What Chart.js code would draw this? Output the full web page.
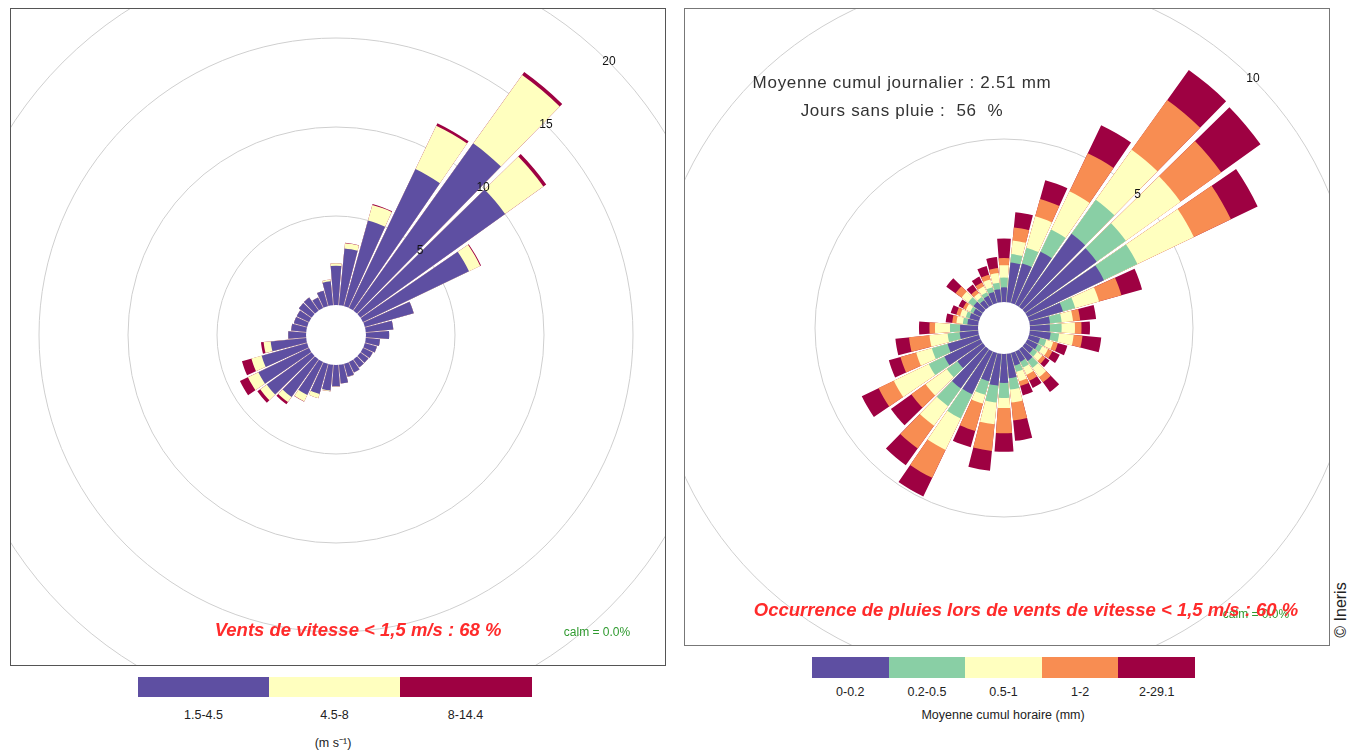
<!DOCTYPE html>
<html>
<head>
<meta charset="utf-8">
<script src="https://cdn.jsdelivr.net/npm/chart.js@4.4.1/dist/chart.umd.min.js"></script>
<style>
  body { margin: 0; width: 1359px; height: 754px; background: #fff; position: relative; overflow: hidden;
         font-family: "Liberation Sans", Arial, sans-serif; color: #222; }
  .box { position: absolute; box-sizing: border-box; overflow: hidden; background: #fff; }
  #boxL { left: 10px; top: 8px; width: 656px; height: 658px; border: 1px solid #555; }
  #boxR { left: 684px; top: 8px; width: 646px; height: 638px; border: 1px solid #777; }
  .box canvas { position: absolute; }
  .t { position: absolute; white-space: pre; transform: translate(-50%, -50%); }
  .red { color: #ff2b2b; font-weight: bold; font-style: italic; font-size: 18.5px; }
  .calm { color: #2f9a2f; font-size: 12px; }
  .info { font-size: 17px; color: #333; letter-spacing: 0.7px; }
  .leg { font-size: 12.5px; color: #222; }
  .sw { position: absolute; }
</style>
</head>
<body>
<div class="box" id="boxL"><canvas id="roseL" width="1000" height="1000" style="left:-175px;top:-174px;width:1000px;height:1000px"></canvas></div>
<div class="box" id="boxR"><canvas id="roseR" width="1000" height="1000" style="left:-181px;top:-181px;width:1000px;height:1000px"></canvas></div>

<div class="t calm" style="left:597px;top:632px">calm = 0.0%</div>
<div class="t red" style="left:358px;top:630px">Vents de vitesse &lt; 1,5 m/s : 68 %</div>

<div class="t info" style="left:902px;top:83px">Moyenne cumul journalier : 2.51 mm</div>
<div class="t info" style="left:902px;top:111px">Jours sans pluie :  56  %</div>
<div class="t calm" style="left:1256px;top:614px">calm = 0.0%</div>
<div class="t red" style="left:1026px;top:610px">Occurrence de pluies lors de vents de vitesse &lt; 1,5 m/s : 60 %</div>

<div id="legL"></div>
<div class="t leg" style="left:333px;top:742px">(m s⁻¹)</div>
<div id="legR"></div>
<div class="t leg" style="left:1003px;top:715px">Moyenne cumul horaire (mm)</div>

<div class="t" style="left:1341px;top:610px;font-size:16px;transform:translate(-50%,-50%) rotate(-90deg)">© Ineris</div>

<script>
// wind directions (10 degree sectors)
const directions = [0, 10, 20, 30, 40, 50, 60, 70, 80, 90, 100, 110, 120, 130, 140, 150, 160, 170,
                    180, 190, 200, 210, 220, 230, 240, 250, 260, 270, 280, 290, 300, 310, 320, 330, 340, 350];

// left rose : frequency (%) by wind speed class
const windLabels = ['1.5-4.5', '4.5-8', '8-14.4'];
const windColors = ['#5e4fa2', '#ffffbf', '#9e0142'];
const wind_1_5_4_5 = [2.2, 3.2, 5.0, 8.65, 11.56, 10.0, 6.6, 2.85, 1.55, 1.3, 0.8, 0.7, 0.6, 0.55, 0.55, 0.65, 0.75, 1.05,
                      1.2, 1.45, 1.75, 2.05, 2.6, 3.1, 3.15, 2.65, 2.0, 1.0, 0.85, 0.77, 0.76, 0.88, 0.9, 0.65, 0.9, 1.35];
const wind_4_5_8   = [0.15, 0.3, 0.9, 2.7, 4.72, 2.64, 0.7, 0, 0, 0, 0, 0, 0, 0, 0, 0, 0.02, 0,
                      0.02, 0.05, 0.25, 0.4, 0.35, 0.45, 0.65, 0.6, 0.4, 0, 0, 0, 0, 0, 0, 0, 0, 0.1];
const wind_8_14_4  = [0, 0.02, 0.05, 0.15, 0.2, 0.2, 0.05, 0, 0, 0, 0, 0, 0, 0, 0, 0, 0, 0,
                      0, 0, 0, 0.02, 0.15, 0.2, 0.5, 0.55, 0.15, 0, 0, 0, 0, 0, 0, 0, 0, 0];
const windRings = [5, 10, 15, 20, 25];
const windTickLabels = [5, 10, 15, 20];

// right rose : frequency (%) by mean hourly rain class
const rainLabels = ['0-0.2', '0.2-0.5', '0.5-1', '1-2', '2-29.1'];
const rainColors = ['#5e4fa2', '#89cfa5', '#ffffbf', '#f88d52', '#9e0142'];
const rain_0_0_2   = [0.45, 1.22, 1.26, 1.8, 2.76, 2.7, 2.6, 1.08, 0.62, 0.61, 0.64, 0.35, 0.35, 0.3, 0.45, 0.35, 0.4, 0.75,
                      0.89, 0.98, 0.9, 1.46, 1.48, 0.96, 1.23, 1.0, 0.57, 0.55, 0.33, 0.3, 0.25, 0.35, 0.25, 0.3, 0.35, 0.4];
const rain_0_2_0_5 = [0.3, 0.26, 0.5, 0.75, 1.28, 1.1, 1.14, 0.39, 0.36, 0.36, 0.26, 0.2, 0.15, 0.15, 0.25, 0.2, 0.2, 0.35,
                      0.46, 0.52, 0.43, 0.82, 0.67, 0.4, 0.53, 0.5, 0.37, 0.31, 0.14, 0.12, 0.1, 0.2, 0.12, 0.12, 0.15, 0.2];
const rain_0_5_1   = [0.38, 0.42, 1.0, 1.3, 1.89, 2.06, 1.92, 0.76, 0.35, 0.41, 0.45, 0.22, 0.2, 0.2, 0.35, 0.25, 0.3, 0.4,
                      0.31, 0.67, 0.28, 1.07, 0.74, 0.8, 1.19, 0.5, 0.56, 0.46, 0.2, 0.18, 0.15, 0.25, 0.15, 0.2, 0.25, 0.3];
const rain_1_2     = [0.22, 0.4, 0.55, 1.3, 1.87, 1.54, 1.26, 0.71, 0.22, 0.2, 0.27, 0.15, 0.15, 0.12, 0.2, 0.2, 0.15, 0.55,
                      0.77, 0.82, 0.87, 0.95, 0.86, 0.54, 0.52, 0.5, 0.63, 0.17, 0.13, 0.12, 0.1, 0.23, 0.12, 0.13, 0.15, 0.15];
const rain_2_29_1  = [0.6, 0.47, 0.6, 0.95, 1.14, 1.48, 0.91, 0.66, 0.49, 0.26, 0.58, 0.3, 0.25, 0.15, 0.37, 0.24, 0.3, 0.63,
                      0.57, 0.61, 0.52, 0.63, 0.63, 0.77, 0.57, 0.37, 0.42, 0.32, 0.2, 0.18, 0.15, 0.35, 0.2, 0.2, 0.28, 0.34];
const rainRings = [5, 10];
const rainTickLabels = [5, 10];

const WEDGE = 8.8; // degrees per sector drawn
const GAP = 10 - WEDGE;

// hole in the middle + ring labels at 45 degrees
const roseDecor = {
  id: 'roseDecor',
  afterDatasetsDraw(chart, args, opts) {
    const s = chart.scales.r;
    const ctx = chart.ctx;
    ctx.save();
    ctx.fillStyle = '#fff';
    ctx.beginPath();
    ctx.arc(s.xCenter, s.yCenter, s.getDistanceFromCenterForValue(0), 0, Math.PI * 2);
    ctx.fill();
    ctx.fillStyle = '#111';
    ctx.font = '12px "Liberation Sans", Arial, sans-serif';
    ctx.textAlign = 'center';
    ctx.textBaseline = 'middle';
    opts.labels.forEach(v => {
      const r = s.getDistanceFromCenterForValue(v);
      ctx.fillText(String(v), s.xCenter + r * Math.SQRT1_2, s.yCenter - r * Math.SQRT1_2);
    });
    ctx.restore();
  }
};

// stacked rose : cumulative values, inner class drawn on top
function roseDatasets(series, colors) {
  let running = directions.map(() => 0);
  return series.map((vals, k) => {
    running = running.map((s, i) => s + vals[i]);
    const data = [];
    running.forEach(v => data.push(+v.toFixed(3), 0));
    return {
      data: data,
      backgroundColor: c => c.dataIndex % 2 === 0 ? colors[k] : 'rgba(0,0,0,0)',
      angle: c => c.dataIndex % 2 === 0 ? WEDGE : GAP,
      borderWidth: 0
    };
  });
}

function makeRose(id, series, colors, rings, tickLabels, holePx, pxPerUnit) {
  const half = 500; // drawing radius of a 1000px canvas
  const min = -holePx / pxPerUnit;
  const max = min + half / pxPerUnit;
  return new Chart(document.getElementById(id), {
    type: 'polarArea',
    data: {
      labels: directions.flatMap(d => [d + '°', '']),
      datasets: roseDatasets(series, colors)
    },
    options: {
      responsive: false,
      animation: false,
      events: [],
      layout: { padding: 0 },
      plugins: {
        legend: { display: false },
        tooltip: { enabled: false },
        roseDecor: { labels: tickLabels }
      },
      scales: {
        r: {
          min: min,
          max: max,
          startAngle: -WEDGE / 2,
          angleLines: { display: false },
          pointLabels: { display: false },
          ticks: { display: false },
          grid: { color: c => c.index === 0 ? 'rgba(0,0,0,0)' : '#cfcfcf', lineWidth: 1 },
          afterBuildTicks: scale => {
            scale.ticks = [min].concat(rings).map(v => ({ value: v }));
          }
        }
      }
    },
    plugins: [roseDecor]
  });
}

makeRose('roseL', [wind_1_5_4_5, wind_4_5_8, wind_8_14_4], windColors, windRings, windTickLabels, 30, 17.8);
makeRose('roseR', [rain_0_0_2, rain_0_2_0_5, rain_0_5_1, rain_1_2, rain_2_29_1], rainColors, rainRings, rainTickLabels, 26, 32.6);

// colour keys under each rose
function colorKey(el, labels, colors, x, y, w, h, labelY) {
  const seg = w / labels.length;
  labels.forEach((lab, i) => {
    const sw = document.createElement('div');
    sw.className = 'sw';
    sw.style.cssText = `left:${x + i * seg}px;top:${y}px;width:${seg + 0.5}px;height:${h}px;background:${colors[i]}`;
    el.appendChild(sw);
    const t = document.createElement('div');
    t.className = 't leg';
    t.style.cssText = `left:${x + (i + 0.5) * seg}px;top:${labelY}px`;
    t.textContent = lab;
    el.appendChild(t);
  });
}
colorKey(document.getElementById('legL'), windLabels, windColors, 138, 677, 393, 20, 715);
colorKey(document.getElementById('legR'), rainLabels, rainColors, 812, 657, 383, 21, 692);
</script>
</body>
</html>
